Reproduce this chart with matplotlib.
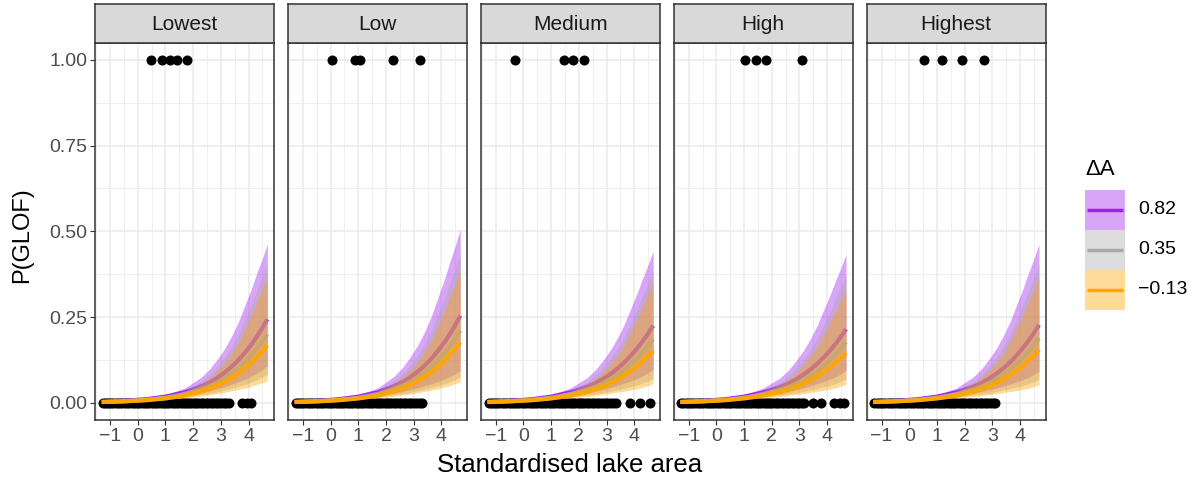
import matplotlib
matplotlib.use("Agg")
import matplotlib.pyplot as plt
from matplotlib.patches import Rectangle
from matplotlib.ticker import FixedLocator

plt.rcParams['font.family'] = ['Liberation Sans', 'DejaVu Sans']

# facets and legend levels
panels = ["Lowest", "Low", "Medium", "High", "Highest"]
delta_labels = ["0.82", "0.35", "\u22120.13"]
delta_colors = ["#A020F0", "#A9A9A9", "#FFA500"]

# observed lakes: x of GLOF events (y = 1) and non-events (y = 0), per panel
glof_x = [
    [0.47, 0.87, 1.17, 1.43, 1.79],
    [0.04, 0.88, 1.06, 2.25, 3.21],
    [-0.30, 1.47, 1.80, 2.19],
    [1.02, 1.42, 1.78, 3.08],
    [0.53, 1.18, 1.90, 2.69],
]
no_glof_x = [
    [-1.26, -1.19, -1.11, -1.03, -0.95, -0.88, -0.79, -0.71, -0.63, -0.55, -0.46, -0.39,
     -0.31, -0.22, -0.15, -0.06, 0.02, 0.09, 0.18, 0.27, 0.34, 0.42, 0.51, 0.58, 0.67,
     0.74, 0.83, 0.90, 0.98, 1.07, 1.14, 1.23, 1.30, 1.39, 1.46, 1.55, 1.62, 1.71, 1.78,
     1.87, 1.94, 2.03, 2.10, 2.19, 2.27, 2.36, 2.45, 2.54, 2.63, 2.72, 2.81, 2.91, 3.00,
     3.11, 3.20, 3.30, 3.78, 3.93, 4.08],
    [-1.26, -1.18, -1.10, -1.02, -0.95, -0.86, -0.78, -0.71, -0.62, -0.54, -0.47, -0.38,
     -0.30, -0.23, -0.14, -0.06, 0.01, 0.10, 0.18, 0.26, 0.35, 0.42, 0.50, 0.59, 0.66,
     0.75, 0.82, 0.91, 0.98, 1.06, 1.15, 1.22, 1.31, 1.38, 1.47, 1.54, 1.63, 1.70, 1.79,
     1.86, 1.95, 2.02, 2.11, 2.18, 2.28, 2.37, 2.46, 2.55, 2.64, 2.73, 2.82, 2.92, 3.01,
     3.12, 3.21, 3.31],
    [-1.26, -1.18, -1.11, -1.02, -0.94, -0.87, -0.78, -0.70, -0.63, -0.54, -0.46, -0.39,
     -0.30, -0.22, -0.15, -0.06, 0.03, 0.10, 0.19, 0.26, 0.35, 0.43, 0.50, 0.59, 0.67,
     0.74, 0.83, 0.91, 0.99, 1.07, 1.15, 1.23, 1.31, 1.39, 1.47, 1.55, 1.63, 1.71, 1.79,
     1.87, 1.95, 2.03, 2.11, 2.19, 2.28, 2.37, 2.46, 2.55, 2.64, 2.73, 2.83, 2.93, 3.03,
     3.13, 3.24, 3.34, 3.86, 4.22, 4.58],
    [-1.26, -1.19, -1.10, -1.03, -0.94, -0.87, -0.79, -0.70, -0.62, -0.55, -0.47, -0.38,
     -0.31, -0.22, -0.14, -0.07, 0.02, 0.10, 0.17, 0.26, 0.34, 0.43, 0.50, 0.58, 0.66,
     0.75, 0.83, 0.90, 0.99, 1.06, 1.14, 1.23, 1.30, 1.38, 1.47, 1.54, 1.62, 1.71, 1.78,
     1.86, 1.95, 2.02, 2.10, 2.19, 2.27, 2.36, 2.45, 2.54, 2.63, 2.72, 2.81, 2.90, 3.00,
     3.09, 3.18, 3.47, 3.79, 4.26, 4.45, 4.62],
    [-1.26, -1.18, -1.10, -1.02, -0.95, -0.87, -0.78, -0.71, -0.62, -0.55, -0.46, -0.38,
     -0.31, -0.22, -0.14, -0.07, 0.02, 0.10, 0.18, 0.27, 0.34, 0.42, 0.51, 0.58, 0.66,
     0.75, 0.82, 0.90, 0.99, 1.06, 1.15, 1.22, 1.30, 1.39, 1.46, 1.54, 1.63, 1.70, 1.78,
     1.87, 1.94, 2.02, 2.11, 2.19, 2.27, 2.36, 2.45, 2.54, 2.63, 2.72, 2.82, 2.91, 3.01,
     3.10],
]

# fitted P(GLOF) and 95% band
x_grid = [-1.3, -0.5, 0.3, 1.0, 1.7, 2.3, 2.6, 2.9, 3.15, 3.4, 3.65, 3.9, 4.1, 4.3, 4.49, 4.68]

purple_fit = [
    [0.0031, 0.0057, 0.0105, 0.018, 0.0306, 0.048, 0.0598, 0.0745, 0.0889, 0.106, 0.1257, 0.149, 0.1696, 0.193, 0.217, 0.244],
    [0.0031, 0.0057, 0.0105, 0.018, 0.0306, 0.0488, 0.0609, 0.0761, 0.0911, 0.109, 0.1296, 0.154, 0.1755, 0.200, 0.2254, 0.254],
    [0.0031, 0.0057, 0.0105, 0.018, 0.0306, 0.0465, 0.0576, 0.0713, 0.0847, 0.1006, 0.1187, 0.140, 0.1585, 0.1795, 0.201, 0.225],
    [0.0031, 0.0057, 0.0105, 0.018, 0.0306, 0.0457, 0.0564, 0.0696, 0.0825, 0.0977, 0.1147, 0.1347, 0.1522, 0.172, 0.1923, 0.215],
    [0.0031, 0.0057, 0.0105, 0.018, 0.0306, 0.0467, 0.0578, 0.0716, 0.0851, 0.1012, 0.1193, 0.1407, 0.1595, 0.1808, 0.2026, 0.227],
]
purple_lo = [
    [0.0020, 0.0041, 0.0082, 0.0138, 0.0215, 0.030, 0.0353, 0.0415, 0.0476, 0.0547, 0.0619, 0.070, 0.0776, 0.086, 0.0964, 0.108],
    [0.0020, 0.0041, 0.0082, 0.0138, 0.0215, 0.0284, 0.0331, 0.0385, 0.0439, 0.050, 0.056, 0.0627, 0.069, 0.076, 0.0845, 0.094],
    [0.0020, 0.0041, 0.0082, 0.0138, 0.0215, 0.0288, 0.0336, 0.0392, 0.0448, 0.0511, 0.0574, 0.0644, 0.071, 0.0783, 0.0872, 0.0972],
    [0.0020, 0.0041, 0.0082, 0.0138, 0.0215, 0.0284, 0.0331, 0.0385, 0.0439, 0.050, 0.056, 0.0627, 0.069, 0.076, 0.0845, 0.094],
    [0.0020, 0.0041, 0.0082, 0.0138, 0.0215, 0.0282, 0.0328, 0.0381, 0.0434, 0.0494, 0.0552, 0.0616, 0.0677, 0.0744, 0.0826, 0.0918],
]
purple_hi = [
    [0.0048, 0.0078, 0.0134, 0.0234, 0.0433, 0.075, 0.0987, 0.130, 0.1596, 0.196, 0.2388, 0.291, 0.3317, 0.378, 0.4183, 0.463],
    [0.0048, 0.0078, 0.0134, 0.0234, 0.0433, 0.078, 0.1034, 0.137, 0.1688, 0.208, 0.2552, 0.313, 0.3582, 0.410, 0.4555, 0.506],
    [0.0048, 0.0078, 0.0134, 0.0234, 0.0433, 0.0737, 0.0967, 0.127, 0.1555, 0.1905, 0.2314, 0.281, 0.3194, 0.363, 0.401, 0.443],
    [0.0048, 0.0078, 0.0134, 0.0234, 0.0433, 0.073, 0.0956, 0.1253, 0.1534, 0.1878, 0.2277, 0.276, 0.3135, 0.356, 0.3926, 0.433],
    [0.0048, 0.0078, 0.0134, 0.0234, 0.0433, 0.075, 0.0987, 0.130, 0.1596, 0.196, 0.2388, 0.291, 0.3317, 0.378, 0.4183, 0.463],
]

gray_fit = [
    [0.0026, 0.0047, 0.0087, 0.0148, 0.0249, 0.0389, 0.0483, 0.060, 0.0716, 0.0855, 0.1017, 0.121, 0.1378, 0.157, 0.1772, 0.200],
    [0.0026, 0.0047, 0.0087, 0.0148, 0.0249, 0.0397, 0.0495, 0.0617, 0.0738, 0.0883, 0.1055, 0.126, 0.1437, 0.164, 0.1856, 0.210],
    [0.0026, 0.0047, 0.0087, 0.0148, 0.0249, 0.0378, 0.0467, 0.0577, 0.0686, 0.0816, 0.0965, 0.1142, 0.1296, 0.147, 0.1654, 0.186],
    [0.0026, 0.0047, 0.0087, 0.0148, 0.0249, 0.0371, 0.0457, 0.0562, 0.0667, 0.0791, 0.0932, 0.1099, 0.1244, 0.1408, 0.1579, 0.177],
    [0.0026, 0.0047, 0.0087, 0.0148, 0.0249, 0.038, 0.047, 0.0582, 0.0693, 0.0824, 0.0976, 0.1157, 0.1314, 0.1492, 0.1679, 0.189],
]
gray_lo = [
    [0.0016, 0.0034, 0.0067, 0.0112, 0.0173, 0.0241, 0.028, 0.0326, 0.0373, 0.0427, 0.0482, 0.0545, 0.0603, 0.0667, 0.0746, 0.0835],
    [0.0016, 0.0034, 0.0067, 0.0112, 0.0173, 0.0231, 0.0267, 0.0308, 0.0351, 0.040, 0.0447, 0.050, 0.0551, 0.0607, 0.0675, 0.075],
    [0.0016, 0.0034, 0.0067, 0.0112, 0.0173, 0.0227, 0.0261, 0.0299, 0.0339, 0.0385, 0.043, 0.048, 0.0526, 0.0577, 0.064, 0.071],
    [0.0016, 0.0034, 0.0067, 0.0112, 0.0173, 0.0225, 0.0258, 0.0296, 0.0335, 0.038, 0.0423, 0.0471, 0.0516, 0.0565, 0.0626, 0.0693],
    [0.0016, 0.0034, 0.0067, 0.0112, 0.0173, 0.0224, 0.0257, 0.0294, 0.0333, 0.0377, 0.042, 0.0467, 0.0511, 0.0559, 0.0619, 0.0685],
]
gray_hi = [
    [0.0041, 0.0066, 0.0112, 0.0195, 0.0356, 0.062, 0.0818, 0.108, 0.1331, 0.164, 0.2021, 0.249, 0.2853, 0.327, 0.3648, 0.407],
    [0.0041, 0.0066, 0.0112, 0.0195, 0.0356, 0.0637, 0.0845, 0.112, 0.1388, 0.172, 0.2127, 0.263, 0.3025, 0.348, 0.3891, 0.435],
    [0.0041, 0.0066, 0.0112, 0.0195, 0.0356, 0.0608, 0.0799, 0.105, 0.1292, 0.159, 0.1949, 0.239, 0.2731, 0.312, 0.3475, 0.387],
    [0.0041, 0.0066, 0.0112, 0.0195, 0.0356, 0.060, 0.0787, 0.1032, 0.1267, 0.1555, 0.1903, 0.233, 0.2659, 0.3035, 0.3369, 0.374],
    [0.0041, 0.0066, 0.0112, 0.0195, 0.0356, 0.062, 0.0818, 0.108, 0.1331, 0.164, 0.2021, 0.249, 0.2853, 0.327, 0.3648, 0.407],
]

orange_fit = [
    [0.0023, 0.0042, 0.0076, 0.0128, 0.0213, 0.0331, 0.041, 0.0509, 0.0607, 0.0724, 0.0859, 0.102, 0.1165, 0.133, 0.1499, 0.169],
    [0.0023, 0.0042, 0.0076, 0.0128, 0.0213, 0.0338, 0.042, 0.0523, 0.0625, 0.0748, 0.089, 0.106, 0.1214, 0.139, 0.1569, 0.177],
    [0.0023, 0.0042, 0.0076, 0.0128, 0.0213, 0.0318, 0.0391, 0.0481, 0.0571, 0.0677, 0.0797, 0.0938, 0.1065, 0.121, 0.1356, 0.152],
    [0.0023, 0.0042, 0.0076, 0.0128, 0.0213, 0.0312, 0.0383, 0.047, 0.0556, 0.0658, 0.0772, 0.0906, 0.1026, 0.1162, 0.1298, 0.145],
    [0.0023, 0.0042, 0.0076, 0.0128, 0.0213, 0.032, 0.0394, 0.0486, 0.0577, 0.0685, 0.0808, 0.0953, 0.1083, 0.123, 0.1381, 0.155],
]
orange_lo = [
    [0.0014, 0.0030, 0.0058, 0.0096, 0.0146, 0.0201, 0.0233, 0.027, 0.0307, 0.035, 0.0391, 0.0437, 0.0483, 0.0534, 0.0585, 0.064],
    [0.0014, 0.0030, 0.0058, 0.0096, 0.0146, 0.0195, 0.0225, 0.026, 0.0295, 0.0334, 0.0371, 0.0413, 0.0454, 0.050, 0.0557, 0.062],
    [0.0014, 0.0030, 0.0058, 0.0096, 0.0146, 0.0187, 0.0214, 0.0245, 0.0276, 0.0311, 0.0343, 0.0378, 0.0413, 0.0452, 0.050, 0.0554],
    [0.0014, 0.0030, 0.0058, 0.0096, 0.0146, 0.0185, 0.0211, 0.024, 0.0271, 0.0305, 0.0335, 0.0367, 0.0401, 0.0438, 0.0484, 0.0534],
    [0.0014, 0.0030, 0.0058, 0.0096, 0.0146, 0.0183, 0.0208, 0.0237, 0.0267, 0.030, 0.0329, 0.036, 0.0393, 0.0428, 0.0472, 0.052],
]
orange_hi = [
    [0.0037, 0.0059, 0.0099, 0.0170, 0.031, 0.054, 0.0712, 0.094, 0.1163, 0.144, 0.178, 0.220, 0.2543, 0.294, 0.3289, 0.368],
    [0.0037, 0.0059, 0.0099, 0.0170, 0.031, 0.055, 0.0727, 0.096, 0.1192, 0.148, 0.1837, 0.228, 0.2641, 0.306, 0.3432, 0.385],
    [0.0037, 0.0059, 0.0099, 0.0170, 0.031, 0.0529, 0.0695, 0.0914, 0.1127, 0.139, 0.1713, 0.211, 0.2435, 0.281, 0.3136, 0.350],
    [0.0037, 0.0059, 0.0099, 0.0170, 0.031, 0.0518, 0.0678, 0.0888, 0.1093, 0.1346, 0.1651, 0.2024, 0.2327, 0.2675, 0.2976, 0.331],
    [0.0037, 0.0059, 0.0099, 0.0170, 0.031, 0.054, 0.0712, 0.094, 0.1163, 0.144, 0.178, 0.220, 0.2543, 0.294, 0.328, 0.366],
]

y_ticks = [0.0, 0.25, 0.5, 0.75, 1.0]
y_tick_labels = ["0.00", "0.25", "0.50", "0.75", "1.00"]
x_ticks = [-1, 0, 1, 2, 3, 4]

fits = [(purple_fit, purple_lo, purple_hi),
        (gray_fit, gray_lo, gray_hi),
        (orange_fit, orange_lo, orange_hi)]

W, H = 1200, 484
fig = plt.figure(figsize=(12, 4.84), dpi=100)

border = "#333333"
grid_col = "#EBEBEB"
tick_lab = "#4D4D4D"

for i, name in enumerate(panels):
    left = (95 + i * 192.9) / W
    ax = fig.add_axes([left, 1 - 420 / H, 179 / W, (420 - 42.7) / H])
    ax.set_xlim(-1.54, 4.92)
    ax.set_ylim(-0.05, 1.05)

    ax.xaxis.set_major_locator(FixedLocator(x_ticks))
    ax.xaxis.set_minor_locator(FixedLocator([-1.5, -0.5, 0.5, 1.5, 2.5, 3.5, 4.5]))
    ax.yaxis.set_major_locator(FixedLocator(y_ticks))
    ax.yaxis.set_minor_locator(FixedLocator([0.125, 0.375, 0.625, 0.875]))
    ax.grid(which="major", color=grid_col, lw=1.1)
    ax.grid(which="minor", color=grid_col, lw=0.55)
    ax.set_axisbelow(True)

    ax.tick_params(which="major", length=3.5, width=0.8, color=border,
                   labelcolor=tick_lab, labelsize=14, pad=2)
    ax.tick_params(which="minor", length=0)
    if i == 0:
        ax.set_yticklabels(y_tick_labels)
    else:
        ax.tick_params(axis="y", which="major", length=0, labelleft=False)
    for sp in ax.spines.values():
        sp.set_color(border)
        sp.set_linewidth(1.1)

    ax.scatter(no_glof_x[i], [0] * len(no_glof_x[i]), s=52, color="black", lw=0, zorder=2)
    ax.scatter(glof_x[i], [1] * len(glof_x[i]), s=52, color="black", lw=0, zorder=2)

    for (fit, lo, hi), col in zip(fits, delta_colors):
        ax.fill_between(x_grid, lo[i], hi[i], color=col, alpha=0.4, lw=0, zorder=3)
        ax.plot(x_grid, fit[i], color=col, lw=3, zorder=3, solid_capstyle="butt")

    # facet strip
    sax = fig.add_axes([left, 1 - 42.7 / H, 179 / W, (42.7 - 4.3) / H])
    sax.set_facecolor("#D9D9D9")
    sax.set_xticks([])
    sax.set_yticks([])
    for sp in sax.spines.values():
        sp.set_color(border)
        sp.set_linewidth(1.1)
    sax.text(0.5, 0.48, name, ha="center", va="center", fontsize=15,
             color="#1A1A1A", transform=sax.transAxes)

fig.text(570 / W, 1 - 465 / H, "Standardised lake area", ha="center", va="center",
         fontsize=18.5)
fig.text(22 / W, 1 - 235 / H, "P(GLOF)", ha="center", va="center", rotation=90,
         fontsize=17)

# legend, laid out in pixel units
lax = fig.add_axes([1075 / W, 1 - 330 / H, 125 / W, 190 / H])
lax.set_xlim(1075, 1200)
lax.set_ylim(330, 140)
lax.axis("off")
lax.text(1085, 170, "\u0394A", ha="left", va="center", fontsize=16)
for k, (lab, col) in enumerate(zip(delta_labels, delta_colors)):
    top = 190 + 40 * k
    lax.add_patch(Rectangle((1085, top), 40, 40, facecolor=col, alpha=0.4, lw=0))
    lax.plot([1087, 1123], [top + 20, top + 20], color=col, lw=2.5,
             solid_capstyle="butt")
    lax.text(1138, top + 20, lab, ha="left", va="center", fontsize=14)

fig.savefig("out.png", dpi=100)
